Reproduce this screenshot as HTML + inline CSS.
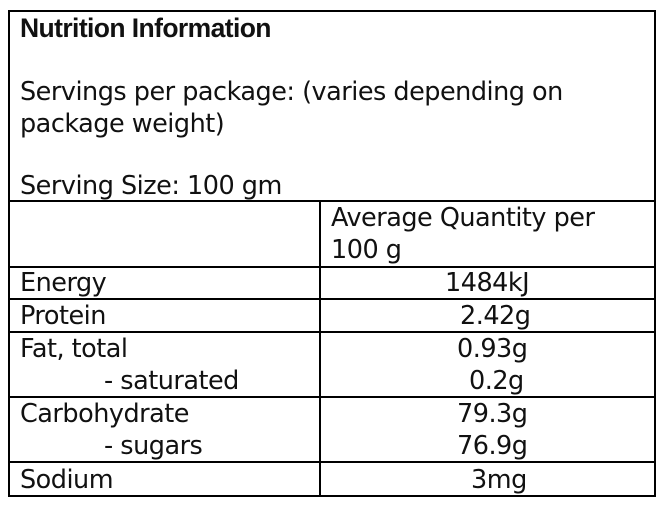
<!DOCTYPE html><html><head><style>
body{margin:0;width:663px;height:510px;background:#fff;position:relative;font-family:"DejaVu Sans","Liberation Sans",sans-serif;color:#111;overflow:hidden}
.l{position:absolute;background:#000}
.t{position:absolute;font-size:25.5px;white-space:nowrap;letter-spacing:-0.5px;line-height:30px}
</style></head><body>
<div class="l" style="left:8px;top:10px;width:648px;height:2px"></div>
<div class="l" style="left:8px;top:10px;width:2px;height:487px"></div>
<div class="l" style="left:654px;top:10px;width:2px;height:487px"></div>
<div class="l" style="left:8px;top:495px;width:648px;height:2px"></div>
<div class="l" style="left:319px;top:201px;width:2px;height:295px"></div>
<div class="l" style="left:8px;top:200px;width:648px;height:2px"></div>
<div class="l" style="left:8px;top:266px;width:648px;height:2px"></div>
<div class="l" style="left:8px;top:298px;width:648px;height:2px"></div>
<div class="l" style="left:8px;top:331px;width:648px;height:2px"></div>
<div class="l" style="left:8px;top:396px;width:648px;height:2px"></div>
<div class="l" style="left:8px;top:461px;width:648px;height:2px"></div>
<div class="t" style="left:20px;top:13px;font-weight:bold;font-family:'Liberation Sans',sans-serif;font-size:26.5px;letter-spacing:-0.6px">Nutrition Information</div>
<div class="t" style="left:20px;top:77px">Servings per package: (varies depending on</div>
<div class="t" style="left:20px;top:109px">package weight)</div>
<div class="t" style="left:20px;top:171px">Serving Size: 100 gm</div>
<div class="t" style="left:331px;top:203px">Average Quantity per</div>
<div class="t" style="left:331px;top:235px">100 g</div>
<div class="t" style="left:20px;top:268px">Energy</div>
<div class="t" style="left:20px;top:301px">Protein</div>
<div class="t" style="left:20px;top:334px">Fat, total</div>
<div class="t" style="left:104px;top:366px">- saturated</div>
<div class="t" style="left:20px;top:399px">Carbohydrate</div>
<div class="t" style="left:104px;top:431px">- sugars</div>
<div class="t" style="left:20px;top:465px">Sodium</div>
<div class="t" style="left:445px;top:268px">1484kJ</div>
<div class="t" style="left:460px;top:301px">2.42g</div>
<div class="t" style="left:457px;top:334px">0.93g</div>
<div class="t" style="left:469px;top:366px">0.2g</div>
<div class="t" style="left:457px;top:399px">79.3g</div>
<div class="t" style="left:457px;top:431px">76.9g</div>
<div class="t" style="left:471px;top:465px">3mg</div>
</body></html>
